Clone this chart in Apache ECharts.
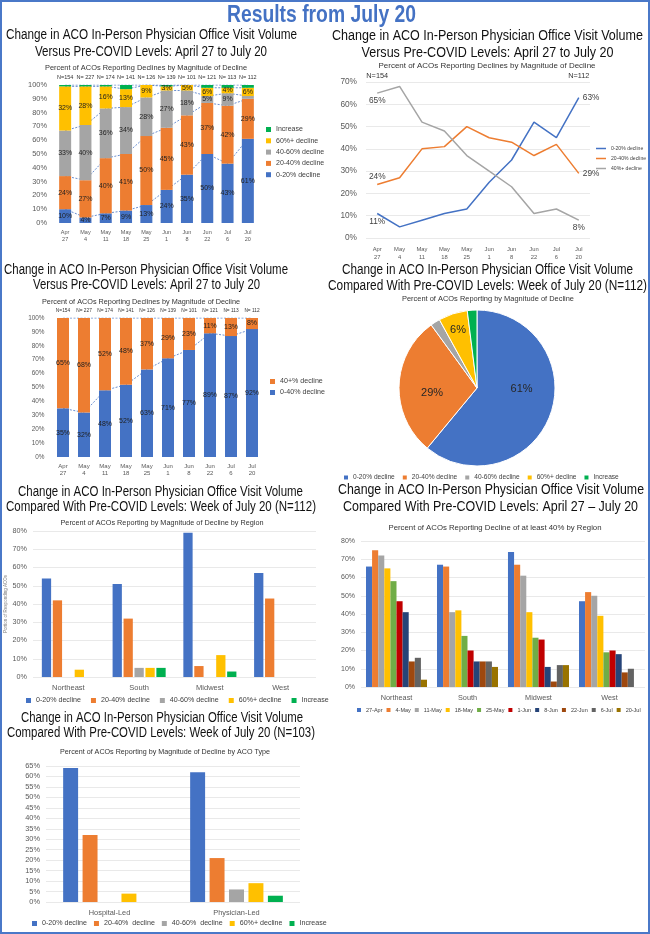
<!DOCTYPE html>
<html><head><meta charset="utf-8">
<script src="https://cdn.jsdelivr.net/npm/echarts@6/dist/echarts.min.js"></script>
<style>html,body{margin:0;padding:0;background:#fff;} #c{width:650px;height:934px;}</style>
</head><body><div id="c"></div>
<script>
// ---------------- DATA ----------------
const weekLabels = ['Apr\n27','May\n4','May\n11','May\n18','May\n25','Jun\n1','Jun\n8','Jun\n22','Jul\n6','Jul\n20'];
const nLabels = ['N=154','N= 227','N= 174','N= 141','N= 126','N= 139','N= 101','N= 121','N= 113','N= 112'];
const nEnds = ['N=154','','','','','','','','','N=112'];
// Panel 1: stacked by magnitude
const p1Dec0to20  = [10,4,7,9,13,24,35,50,43,61];
const p1Dec20to40 = [24,27,40,41,50,45,43,37,42,29];
const p1Dec40to60 = [33,40,36,34,28,27,18,5,9,2];
const p1Dec60plus = [32,28,16,13,9,3,5,6,4,6];
const p1Increase  = [1,1,1,3,0,1,0,2,2,2];
// Panel 2: lines
const p2Dec0to20  = [11,5,8,11,13,25,35,52,45,63];
const p2Dec20to40 = [24,27,40,41,50,45,43,37,42,29];
const p2Dec40plus = [65,68,52,48,37,30,23,11,13,8];
// Panel 3: two-part stack
const p3Dec0to40  = [35,32,48,52,63,71,77,89,87,92];
const p3Dec40plus = [65,68,52,48,37,29,23,11,13,8];
// Panel 4: pie
const pieNames  = ['0-20% decline','20-40% decline','40-60% decline','60%+ decline','Increase'];
const pieValues = [61,29,2,6,2];
// Panel 5: by region
const regions = ['Northeast','South','Midwest','West'];
const p5Dec0to20  = [54,51,79,57];
const p5Dec20to40 = [42,32,6,43];
const p5Dec40to60 = [0,5,0,0];
const p5Dec60plus = [4,5,12,0];
const p5Increase  = [0,5,3,0];
// Panel 6: >=40% decline by region and week
const p6Weeks = ['27-Apr','4-May','11-May','18-May','25-May','1-Jun','8-Jun','22-Jun','6-Jul','20-Jul'];
const p6Apr27 = [66,67,74,47];
const p6May4  = [75,66,67,52];
const p6May11 = [72,41,61,50];
const p6May18 = [65,42,41,39];
const p6May25 = [58,28,27,19];
const p6Jun1  = [47,20,26,20];
const p6Jun8  = [41,14,11,18];
const p6Jun22 = [14,14,3,8];
const p6Jul6  = [16,14,12,10];
const p6Jul20 = [4,11,12,0];
// Panel 7: by ACO type
const acoTypes = ['Hospital-Led','Physician-Led'];
const p7Names = ['0-20% decline','20-40%  decline','40-60%  decline','60%+ decline','Increase'];
const p7Dec0to20  = [64,62];
const p7Dec20to40 = [32,21];
const p7Dec40to60 = [0,6];
const p7Dec60plus = [4,9];
const p7Increase  = [0,3];

// ---------------- STYLE ----------------
const F = 'Liberation Sans';
const BLUE='#4472C4', ORANGE='#ED7D31', GRAY='#A5A5A5', GOLD='#FFC000', GREEN='#00B050';
const p1Colors=[BLUE,ORANGE,GRAY,GOLD,GREEN];
const p6Colors=['#4472C4','#ED7D31','#A5A5A5','#FFC000','#70AD47','#C00000','#264478','#9E480E','#636363','#997300'];
const AX='#595959';
const mctx=document.createElement('canvas').getContext('2d');

const grids=[], xAxes=[], yAxes=[], series=[], legends=[], graphics=[];

// centred text squeezed horizontally to the reference's (narrow-font) width
function text(x,y,t,size,targetW,opt){
  opt=opt||{};
  const w=opt.weight||'normal';
  mctx.font=w+' '+size+'px "'+F+'"';
  const sx=targetW?targetW/mctx.measureText(t).width:1;
  graphics.push({type:'text', x:x, y:y, scaleX:sx, scaleY:1, silent:true, style:{
    text:t, fontSize:size, fontFamily:F, fill:opt.fill||'#111', fontWeight:w,
    align:'center', verticalAlign:'middle', textAlign:'center', textVerticalAlign:'middle'}});
}
function catAxis(gi,data,size,margin,extra,color){
  xAxes.push(Object.assign({gridIndex:gi,type:'category',data:data,
    axisTick:{show:false},axisLine:{show:false},
    axisLabel:{fontSize:size,fontFamily:F,color:color||AX,margin:margin,interval:0,lineHeight:size*1.3}},extra||{}));
  return xAxes.length-1;
}
function valAxis(gi,max,interval,size,margin,split,extra){
  yAxes.push(Object.assign({gridIndex:gi,type:'value',min:0,max:max,interval:interval,
    axisLine:{show:false},axisTick:{show:false},
    axisLabel:{formatter:'{value}%',fontSize:size,fontFamily:F,color:AX,margin:margin},
    splitLine:{show:split,lineStyle:{color:'#E3E3E3',width:0.8}}},extra||{}));
  return yAxes.length-1;
}
function legend(names,o,size){
  legends.push(Object.assign({data:names,icon:'rect',itemWidth:5,itemHeight:5,selectedMode:false,padding:0,
    textStyle:{fontSize:size,fontFamily:F,color:'#404040'}},o));
}
function cumulative(arrs,upto){
  return arrs[0].map((_,i)=>{let s=0;for(let k=0;k<=upto;k++)s+=arrs[k][i];return Math.min(100,s);});
}
function seriesLines(xi,yi,arrs){
  for(let k=0;k<arrs.length;k++){
    series.push({type:'line',name:'_sl',xAxisIndex:xi,yAxisIndex:yi,data:cumulative(arrs,k),
      symbol:'none',silent:true,z:1,lineStyle:{color:BLUE,width:0.8,type:[2,1.5]}});
  }
}
const barLbl={position:'inside',fontSize:7,fontFamily:F,color:'#1f1f1f'};

// ---------------- Page ----------------
graphics.push({type:'rect',silent:true,shape:{x:1,y:1,width:648,height:932},style:{fill:'none',stroke:'#4A78C8',lineWidth:2}});
text(321.5,15,'Results from July 20',24,189,{fill:'#4472C4',weight:'bold'});

// ---------------- Panel 1 ----------------
text(151.5,35,'Change in ACO In-Person Physician Office Visit Volume',14,291);
text(151,52,'Versus Pre-COVID Levels: April 27 to July 20',14,232);
text(146,68,'Percent of ACOs Reporting Declines by Magnitude of Decline',8,202,{fill:'#333'});
grids.push({left:55,top:85,width:203,height:138});
let g=grids.length-1;
let xi=catAxis(g,weekLabels,5.5,6);
catAxis(g,nLabels,5.5,4,{position:'top'},'#333');
let yi=valAxis(g,100,10,7.4,8,false);
const p1Arr=[p1Dec0to20,p1Dec20to40,p1Dec40to60,p1Dec60plus,p1Increase];
pieNames.forEach((nm,k)=>{
  series.push({type:'bar',name:nm,stack:'p1',xAxisIndex:xi,yAxisIndex:yi,data:p1Arr[k],barWidth:12,z:2,
    itemStyle:{color:p1Colors[k]},
    label:Object.assign({show:k<4,formatter:p=>p.value>=3?p.value+'%':''},barLbl)});
});
seriesLines(xi,yi,p1Arr);
legend(['Increase','60%+ decline','40-60% decline','20-40% decline','0-20% decline'],
  {orient:'vertical',left:266,top:126,itemGap:4.3},7);

// ---------------- Panel 2 ----------------
text(487.5,36,'Change in ACO In-Person Physician Office Visit Volume',14,311);
text(487.5,53,'Versus Pre-COVID Levels: April 27 to July 20',14,252);
text(487,66,'Percent of ACOs Reporting Declines by Magnitude of Decline',8,217,{fill:'#333'});
grids.push({left:366,top:82,width:224,height:156});
g=grids.length-1;
xi=catAxis(g,weekLabels,5.8,8);
catAxis(g,nEnds,7.3,1,{position:'top'},'#333');
yi=valAxis(g,70,10,8.3,9,true);
function endLabels(arr,firstPos,lastPos){
  return arr.map((v,i)=>{
    if(i===0) return {value:v,label:{show:true,position:firstPos}};
    if(i===arr.length-1) return {value:v,label:{show:true,position:lastPos}};
    return v;
  });
}
const lineLbl={show:false,formatter:'{c}%',fontSize:8.3,fontFamily:F,color:'#404040',distance:4};
[[p2Dec0to20,'0-20% decline',BLUE,'bottom','right'],
 [p2Dec20to40,'20-40% decline',ORANGE,'top','right'],
 [p2Dec40plus,'40%+ decline',GRAY,'bottom','bottom']].forEach(([d,nm,c,fp,lp])=>{
  series.push({type:'line',name:nm,xAxisIndex:xi,yAxisIndex:yi,data:endLabels(d,fp,lp),
    symbol:'circle',symbolSize:0.01,showSymbol:true,lineStyle:{color:c,width:1.5},itemStyle:{color:c},label:lineLbl});
});
legend(['0-20% decline','20-40% decline','40%+ decline'],
  {orient:'vertical',left:596,top:146,itemGap:5,itemWidth:10,itemHeight:1.5},5.1);

// ---------------- Panel 3 ----------------
text(146,270,'Change in ACO In-Person Physician Office Visit Volume',14,284);
text(146.5,285,'Versus Pre-COVID Levels: April 27 to July 20',14,227);
text(141,302,'Percent of ACOs Reporting Declines by Magnitude of Decline',8,198,{fill:'#333'});
grids.push({left:52.5,top:318,width:210,height:139});
g=grids.length-1;
xi=catAxis(g,weekLabels,6,5);
catAxis(g,nLabels,4.8,4,{position:'top'},'#333');
yi=valAxis(g,100,10,6.4,8,false);
series.push({type:'bar',name:'0-40% decline',stack:'p3',xAxisIndex:xi,yAxisIndex:yi,data:p3Dec0to40,barWidth:12,z:2,
  itemStyle:{color:BLUE},label:Object.assign({show:true,formatter:'{c}%'},barLbl)});
series.push({type:'bar',name:'40+% decline',stack:'p3',xAxisIndex:xi,yAxisIndex:yi,data:p3Dec40plus,barWidth:12,z:2,
  itemStyle:{color:ORANGE},label:Object.assign({show:true,formatter:'{c}%'},barLbl)});
seriesLines(xi,yi,[p3Dec0to40,p3Dec40plus]);
legend(['40+% decline','0-40% decline'],{orient:'vertical',left:270,top:378,itemGap:4},7.1);

// ---------------- Panel 4 (pie) ----------------
text(487.5,270,'Change in ACO In-Person Physician Office Visit Volume',14,291);
text(487.5,286,'Compared With Pre-COVID Levels: Week of July 20 (N=112)',14,319);
text(488,299,'Percent of ACOs Reporting by Magnitude of Decline',8,172,{fill:'#333'});
const pieShift=[[5,-13],[-3,6],[0,0],[-6,-18],[0,0]];
series.push({type:'pie',name:'pie',center:[477,388],radius:78,startAngle:90,clockwise:true,
  data:pieNames.map((n,i)=>({name:n,value:pieValues[i],itemStyle:{color:p1Colors[i]}})),
  itemStyle:{borderColor:'#fff',borderWidth:1},
  label:{show:true,position:'inside',fontSize:11,fontFamily:F,color:'#262626',
    formatter:p=>p.value>=5?p.value+'%':''},labelLine:{show:false},
  labelLayout:p=>({dx:pieShift[p.dataIndex][0],dy:pieShift[p.dataIndex][1]})});
legend(pieNames,{left:344,top:474,itemGap:8,itemWidth:4,itemHeight:4},6.6);

// ---------------- Panel 5 ----------------
text(160.5,492,'Change in ACO In-Person Physician Office Visit Volume',14,285);
text(161,507,'Compared With Pre-COVID Levels: Week of July 20 (N=112)',14,310);
text(162,523,'Percent of ACOs Reporting by Magnitude of Decline by Region',8,203,{fill:'#333'});
grids.push({left:33,top:531,width:283,height:146});
g=grids.length-1;
xi=catAxis(g,regions,7.5,6);
yi=valAxis(g,80,10,7.2,6,true,{name:'Portion of Responding ACOs',nameLocation:'middle',nameGap:24,
  nameTextStyle:{fontSize:4.5,fontFamily:F,color:'#7F7F7F'}});
const p5Arr=[p5Dec0to20,p5Dec20to40,p5Dec40to60,p5Dec60plus,p5Increase];
pieNames.forEach((nm,k)=>{
  series.push({type:'bar',name:nm,xAxisIndex:xi,yAxisIndex:yi,data:p5Arr[k],barCategoryGap:'25%',barGap:'18%',
    itemStyle:{color:p1Colors[k]}});
});
legend(pieNames,{left:26,top:697,itemGap:10},7.1);

// ---------------- Panel 6 ----------------
text(491,490,'Change in ACO In-Person Physician Office Visit Volume',14,306);
text(490.5,507,'Compared With Pre-COVID Levels: April 27 \u2013 July 20',14,295);
text(495,528,'Percent of ACOs Reporting Decline of at least 40% by Region',8,213,{fill:'#333'});
grids.push({left:361,top:541,width:284,height:146});
g=grids.length-1;
xi=catAxis(g,regions,7.3,6);
yi=valAxis(g,80,10,7,6,true);
const p6Arr=[p6Apr27,p6May4,p6May11,p6May18,p6May25,p6Jun1,p6Jun8,p6Jun22,p6Jul6,p6Jul20];
p6Weeks.forEach((nm,k)=>{
  series.push({type:'bar',name:nm,xAxisIndex:xi,yAxisIndex:yi,data:p6Arr[k],barCategoryGap:'14%',barGap:'0%',
    itemStyle:{color:p6Colors[k]}});
});
legend(p6Weeks,{left:357,top:707,itemGap:4,itemWidth:4,itemHeight:4,width:292},5.5);

// ---------------- Panel 7 ----------------
text(162,718,'Change in ACO In-Person Physician Office Visit Volume',14,282);
text(161,733,'Compared With Pre-COVID Levels: Week of July 20 (N=103)',14,308);
text(165,752,'Percent of ACOs Reporting by Magnitude of Decline by ACO Type',8,210,{fill:'#333'});
grids.push({left:46,top:766,width:254,height:136});
g=grids.length-1;
xi=catAxis(g,acoTypes,7.4,6);
yi=valAxis(g,65,5,7.4,6,true);
const p7Arr=[p7Dec0to20,p7Dec20to40,p7Dec40to60,p7Dec60plus,p7Increase];
p7Names.forEach((nm,k)=>{
  series.push({type:'bar',name:nm,xAxisIndex:xi,yAxisIndex:yi,data:p7Arr[k],barCategoryGap:'27%',barGap:'30%',
    itemStyle:{color:p1Colors[k]}});
});
legend(p7Names,{left:32,top:920,itemGap:7},7.1);

// ---------------- Render ----------------
const chart=echarts.init(document.getElementById('c'),null,{renderer:'canvas'});
chart.setOption({
  animation:false,
  textStyle:{fontFamily:F},
  grid:grids, xAxis:xAxes, yAxis:yAxes, series:series, legend:legends, graphic:graphics
});
</script></body></html>
